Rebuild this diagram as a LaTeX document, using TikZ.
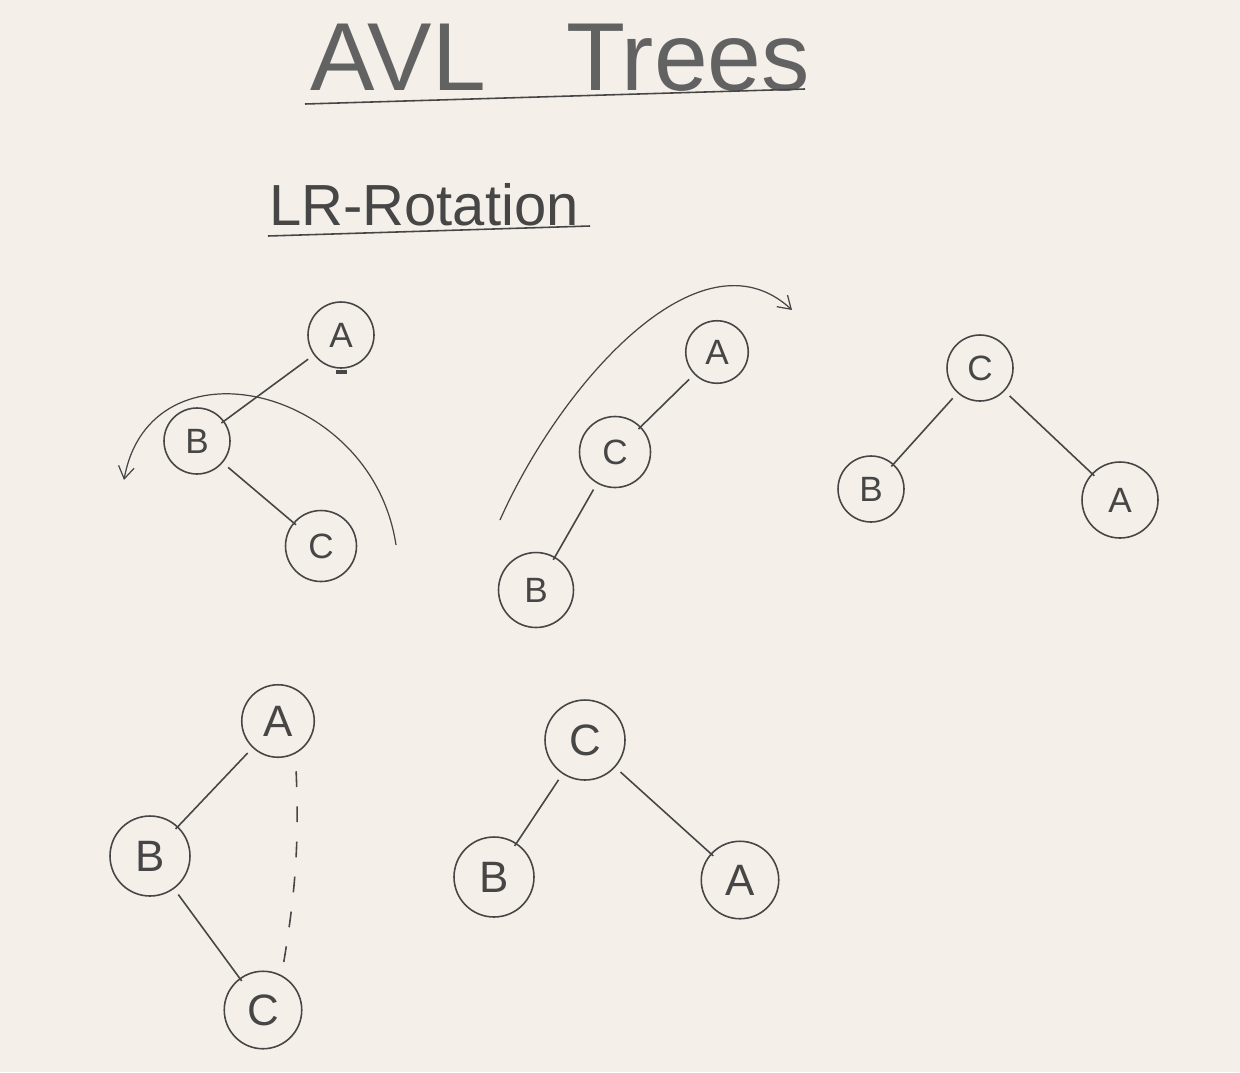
\documentclass[tikz,border=0pt]{standalone}
\usepackage{fontspec}
\setmainfont{Liberation Sans}
\usetikzlibrary{arrows.meta}
\definecolor{board}{HTML}{F4EFE9}
\definecolor{ink}{HTML}{464646}
\begin{document}
\begin{tikzpicture}[x=0.02cm, y=-0.02cm, color=ink, line width=0.9pt,
    nd/.style={draw, circle, inner sep=0pt, minimum size=1.32cm, font=\fontsize{20}{20}\selectfont},
    bignd/.style={nd, minimum size=1.55cm, font=\fontsize{25}{25}\selectfont},
    lnk/.style={shorten <=4pt, shorten >=-2pt},
    turn/.style={line width=0.7pt, -{Straight Barb[length=7pt,width=9pt]}}]
    \fill[board] (0,0) rectangle (1240,1072);
    \useasboundingbox (0,0) rectangle (1240,1072);

    % headings
    \node[text=ink!85] (title) at (560,58) {\fontsize{55}{55}\selectfont AVL\ \ \ Trees};
    \draw (305,104) -- (805,89);
    \node (sub) at (424,205) {\fontsize{33}{33}\selectfont LR-Rotation};
    \draw (268,236) -- (590,226);

    % first tree: left heavy on the right child
    \node[nd] (A1) at (341,335) {A}; \node[nd] (B1) at (197,441) {B};
    \node[nd, minimum size=1.42cm] (C1) at (321,546) {C};
    \draw[lnk] (A1) -- (B1); \draw[lnk] (B1) -- (C1);
    \draw[line width=2pt] (336,372) -- (347,372);
    \coordinate (s1) at (396,545); \coordinate (e1) at (124,480);
    \draw[turn] (s1) .. controls (372,385) and (150,335) .. (e1);

    % second tree
    \node[nd, minimum size=1.25cm] (A2) at (717,352) {A}; \node[nd, minimum size=1.42cm] (C2) at (615,452) {C};
    \node[nd, minimum size=1.5cm] (B2) at (536,590) {B};
    \draw[lnk] (A2) -- (C2); \draw[lnk] (C2) -- (B2);
    \coordinate (s2) at (500,520); \coordinate (e2) at (792,310);
    \draw[turn] (s2) .. controls (560,385) and (700,225) .. (e2);

    % third tree
    \node[nd] (C3) at (980,368) {C}; \node[nd] (B3) at (871,489) {B};
    \node[nd, minimum size=1.52cm] (A3) at (1120,500) {A};
    \draw[lnk] (C3) -- (B3); \draw[lnk] (C3) -- (A3);

    % fourth tree
    \node[bignd, minimum size=1.45cm] (A4) at (278,721) {A}; \node[bignd, minimum size=1.6cm] (B4) at (150,856) {B};
    \node[bignd] (C4) at (263,1010) {C};
    \draw[lnk] (A4) -- (B4); \draw[lnk] (B4) -- (C4);
    \draw[dashed, dash pattern=on 9pt off 11pt, shorten <=10pt, shorten >=6pt] (A4.-62) to[bend left=6] (C4.62);

    % fifth tree
    \node[bignd, minimum size=1.6cm] (C5) at (585,740) {C}; \node[bignd, minimum size=1.6cm] (B5) at (494,877) {B};
    \node[bignd] (A5) at (740,880) {A};
    \draw[lnk] (C5) -- (B5); \draw[lnk] (C5) -- (A5);
\end{tikzpicture}
\end{document}
